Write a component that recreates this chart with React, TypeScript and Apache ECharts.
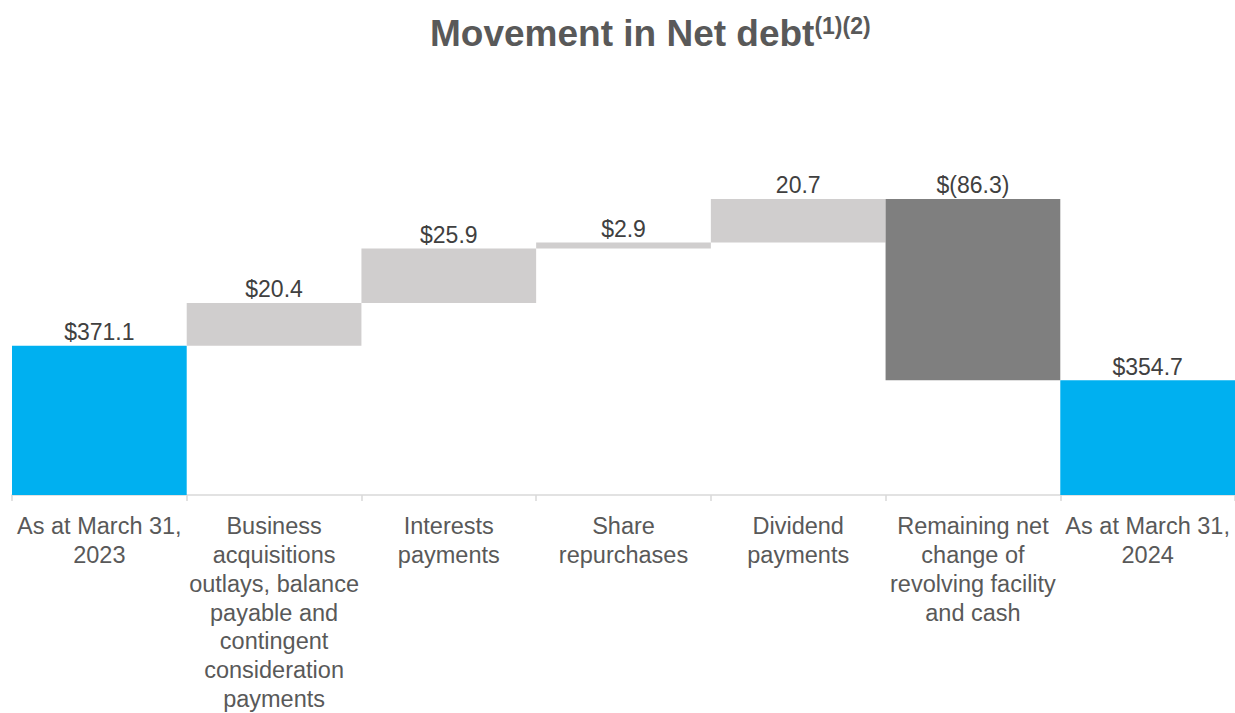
import React, { useEffect, useRef } from "react";
import * as echarts from "echarts";

const categories = [
  "As at March 31,\n2023",
  "Business\nacquisitions\noutlays, balance\npayable and\ncontingent\nconsideration\npayments",
  "Interests\npayments",
  "Share\nrepurchases",
  "Dividend\npayments",
  "Remaining net\nchange of\nrevolving facility\nand cash",
  "As at March 31,\n2024",
];
const openingBalance = 371.1;
const changes = [20.4, 25.9, 2.9, 20.7, -86.3];
const closingBalance = 354.7;
const valueLabels = ["$371.1", "$20.4", "$25.9", "$2.9", "20.7", "$(86.3)", "$354.7"];
const axisMin = 300;
const axisMax = 450;

const BLUE = "#00b0f0";
const LIGHT = "#d0cece";
const DARK = "#7f7f7f";
const FONT = 'Arial, "Liberation Sans", sans-serif';

export default function App() {
  const ref = useRef<HTMLDivElement>(null);
  useEffect(() => {
    if (!ref.current) return;
    const chart = echarts.init(ref.current, undefined, { renderer: "svg" });

    const base: number[] = [];
    const vis: any[] = [];
    base.push(axisMin);
    vis.push({ value: openingBalance - axisMin, itemStyle: { color: BLUE } });
    let running = openingBalance;
    changes.forEach((c) => {
      const next = running + c;
      base.push(Math.min(running, next));
      vis.push({ value: Math.abs(c), itemStyle: { color: c < 0 ? DARK : LIGHT } });
      running = next;
    });
    base.push(axisMin);
    vis.push({ value: closingBalance - axisMin, itemStyle: { color: BLUE } });

    chart.setOption({
      animation: false,
      title: {
        left: 430,
        top: 11,
        padding: 0,
        text: "{a|Movement in Net debt}{b|(1)(2)}",
        textStyle: {
          rich: {
            a: { fontSize: 37, fontWeight: "bold", color: "#595959", fontFamily: FONT, lineHeight: 44 },
            b: {
              fontSize: 23,
              fontWeight: "bold",
              color: "#595959",
              fontFamily: FONT,
              lineHeight: 23,
              verticalAlign: "top",
              padding: [3, 0, 0, 0],
            },
          },
        },
      },
      grid: { left: 12, top: 180, width: 1225, height: 316, containLabel: false },
      xAxis: {
        type: "category",
        data: categories,
        axisLine: { show: true, lineStyle: { color: "#d9d9d9", width: 1.5 } },
        axisTick: { show: true, length: 6, interval: 0, lineStyle: { color: "#d9d9d9", width: 1.5 } },
        axisLabel: {
          interval: 0,
          margin: 17,
          fontSize: 23.5,
          lineHeight: 28.7,
          color: "#595959",
          fontFamily: FONT,
        },
      },
      yAxis: {
        type: "value",
        min: axisMin,
        max: axisMax,
        show: false,
        splitLine: { show: false },
      },
      series: [
        {
          type: "bar",
          stack: "w",
          data: base,
          itemStyle: { color: "transparent" },
          barCategoryGap: "0%",
          silent: true,
        },
        {
          type: "bar",
          stack: "w",
          data: vis,
          barCategoryGap: "0%",
          label: {
            show: true,
            position: "top",
            distance: 2,
            fontSize: 23,
            color: "#404040",
            fontFamily: FONT,
            formatter: (p: any) => valueLabels[p.dataIndex],
          },
        },
      ],
    });
    return () => chart.dispose();
  }, []);
  return (
    <div
      ref={ref}
      style={{ position: "fixed", left: 0, top: 0, width: 1235, height: 713, background: "#fff" }}
    />
  );
}
